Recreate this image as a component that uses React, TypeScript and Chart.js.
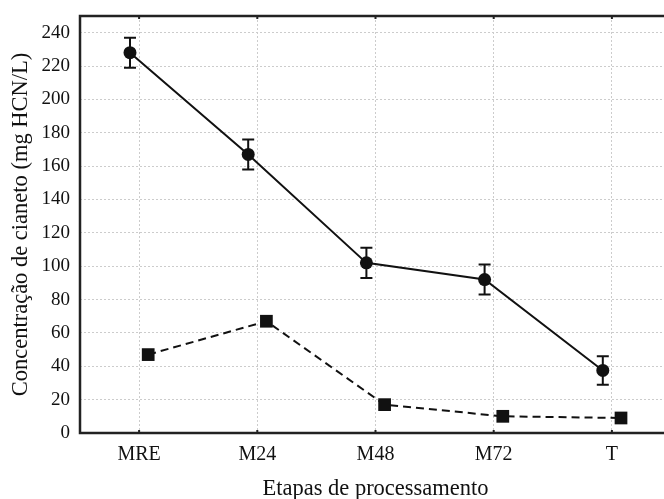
import React, { useEffect, useRef } from "react";
import { Chart, registerables } from "chart.js";

Chart.register(...registerables);

const categories = ["MRE", "M24", "M48", "M72", "T"];
const solidValues = [228, 167, 102, 92, 37.5];
const solidErrLow = [219, 158, 93, 83, 29];
const solidErrHigh = [237, 176, 111, 101, 46];
const dashedValues = [47, 67, 17, 10, 9];
const yTicks = [0, 20, 40, 60, 80, 100, 120, 140, 160, 180, 200, 220, 240];

const OFFSET = 0.077;
const FONT = "'Liberation Serif', 'Times New Roman', serif";

const framePlugin = {
  id: "frame",
  afterDatasetsDraw(chart: any) {
    const { ctx, chartArea, scales } = chart;
    const xs = scales.x;
    const ys = scales.y;
    ctx.save();
    // error bars
    ctx.strokeStyle = "#111";
    ctx.lineWidth = 2;
    solidValues.forEach((_, i) => {
      const x = xs.getPixelForValue(i - OFFSET);
      const yl = ys.getPixelForValue(solidErrLow[i]);
      const yh = ys.getPixelForValue(solidErrHigh[i]);
      ctx.beginPath();
      ctx.moveTo(x, yl);
      ctx.lineTo(x, yh);
      ctx.moveTo(x - 6, yl);
      ctx.lineTo(x + 6, yl);
      ctx.moveTo(x - 6, yh);
      ctx.lineTo(x + 6, yh);
      ctx.stroke();
    });
    // frame
    ctx.strokeStyle = "#222";
    ctx.lineWidth = 2.5;
    ctx.beginPath();
    ctx.moveTo(chartArea.right + 10, chartArea.top);
    ctx.lineTo(chartArea.left, chartArea.top);
    ctx.lineTo(chartArea.left, chartArea.bottom);
    ctx.lineTo(chartArea.right + 10, chartArea.bottom);
    ctx.stroke();
    // inward ticks
    ctx.lineWidth = 2;
    categories.forEach((_, i) => {
      const x = xs.getPixelForValue(i);
      ctx.beginPath();
      ctx.moveTo(x, chartArea.top);
      ctx.lineTo(x, chartArea.top + 3);
      ctx.moveTo(x, chartArea.bottom);
      ctx.lineTo(x, chartArea.bottom - 3);
      ctx.stroke();
    });
    ctx.restore();
  },
};

export default function App() {
  const ref = useRef<HTMLCanvasElement | null>(null);
  useEffect(() => {
    if (!ref.current) return;
    const chart = new Chart(ref.current, {
      type: "line",
      data: {
        datasets: [
          {
            data: solidValues.map((v, i) => ({ x: i - OFFSET, y: v })),
            borderColor: "#111",
            backgroundColor: "#111",
            borderWidth: 2,
            pointStyle: "circle",
            pointRadius: 6.5,
            pointBorderWidth: 0,
            tension: 0,
          },
          {
            data: dashedValues.map((v, i) => ({ x: i + OFFSET, y: v })),
            borderColor: "#111",
            backgroundColor: "#111",
            borderWidth: 2,
            borderDash: [8, 5],
            pointStyle: "rect",
            pointRadius: 9,
            pointBorderWidth: 0,
            tension: 0,
          },
        ],
      },
      options: {
        animation: false,
        responsive: false,
        layout: { padding: { top: 16, right: 8, left: 0, bottom: 0 } },
        plugins: { legend: { display: false }, tooltip: { enabled: false } },
        scales: {
          x: {
            type: "linear",
            min: -0.5,
            max: 4.5,
            afterBuildTicks: (scale: any) => {
              scale.ticks = categories.map((_, i) => ({ value: i }));
            },
            afterFit: (scale: any) => {
              scale.height = 66;
              scale.paddingLeft = 0;
              scale.paddingRight = 0;
            },
            grid: { color: "#cccccc", drawTicks: false, lineWidth: 1 },
            border: { display: false, dash: [2, 2] },
            ticks: {
              color: "#111",
              font: { family: FONT, size: 20 },
              padding: 10,
              callback: (v: any) => categories[Math.round(v)] ?? "",
              maxRotation: 0,
            },
            title: {
              display: true,
              text: "Etapas de processamento",
              color: "#111",
              font: { family: FONT, size: 22.5 },
              padding: { top: 10, bottom: -4 },
            },
          },
          y: {
            min: 0,
            max: 250,
            afterBuildTicks: (scale: any) => {
              scale.ticks = yTicks.map((v) => ({ value: v }));
            },
            afterFit: (scale: any) => {
              scale.width = 80;
              scale.paddingTop = 0;
              scale.paddingBottom = 0;
            },
            grid: { color: "#cccccc", drawTicks: false, lineWidth: 1 },
            border: { display: false, dash: [2, 2] },
            ticks: {
              color: "#111",
              font: { family: FONT, size: 19 },
              padding: 10,
            },
            title: {
              display: true,
              text: "Concentração de cianeto (mg HCN/L)",
              color: "#111",
              font: { family: FONT, size: 22.5 },
              padding: { top: 8, bottom: 0 },
            },
          },
        },
      },
      plugins: [framePlugin],
    } as any);
    return () => chart.destroy();
  }, []);
  return (
    <div
      style={{
        position: "absolute",
        left: 0,
        top: 0,
        width: 664,
        height: 499,
        overflow: "hidden",
        background: "#fff",
      }}
    >
      <canvas ref={ref} width={680} height={499} style={{ display: "block" }} />
    </div>
  );
}
